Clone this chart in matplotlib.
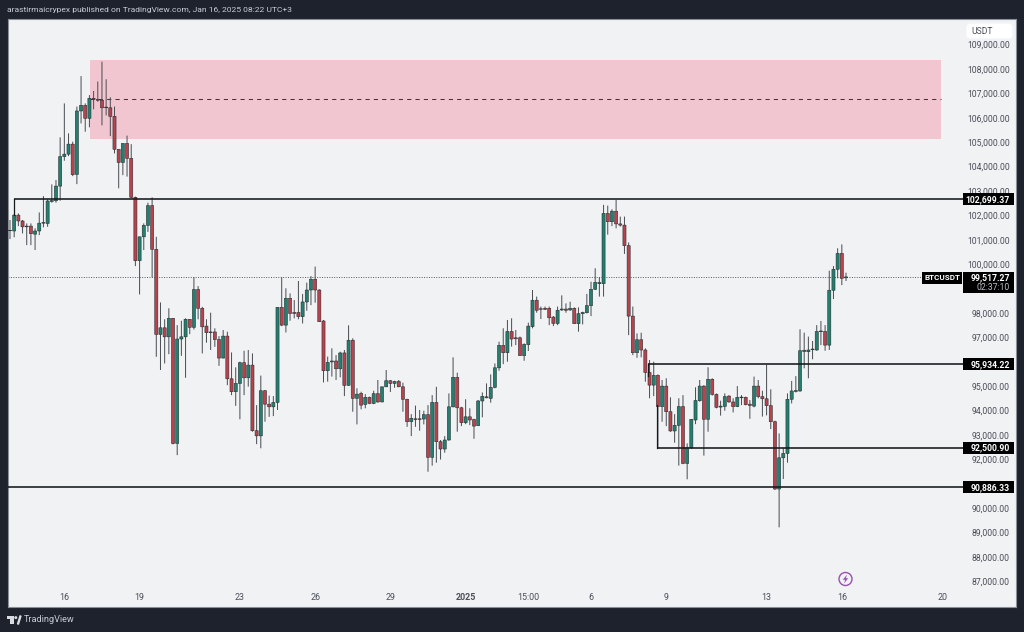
import matplotlib
matplotlib.use("Agg")
import matplotlib.pyplot as plt
from matplotlib.patches import Rectangle, Circle, Polygon, FancyBboxPatch
from matplotlib.transforms import Affine2D, blended_transform_factory

# OHLC of the 4h candles
opens = [101420,101400,102050,101810,101600,101600,101270,101400,101720,101710,102610,102640,103240,104450,104550,104960,103720,106320,106550,106020,
106840,106800,106760,106480,106450,106100,104750,104210,104990,104380,102780,100180,101160,101630,102440,100650,97160,97430,97060,97820,
92690,96970,97060,97780,97450,99000,98230,97500,97260,97260,96950,96190,97090,95340,94810,95150,96000,95380,95900,93210,
93000,94850,94300,94190,94370,98270,97540,98640,98060,98060,97890,98490,98980,99420,98980,97710,95670,96030,96070,95750,
96400,95070,96920,94540,94740,94290,94580,94330,94730,94390,95010,95260,95150,95230,95010,94500,93580,93700,93700,93690,
93870,92120,94370,92760,92460,92830,94190,95400,94150,93540,93780,93670,93420,94430,94600,94540,94990,95790,96710,96410,
97280,97020,97020,96290,96740,97480,98560,98210,98230,98230,97870,97610,98160,98200,98160,98230,97600,98010,98050,98340,
99010,99240,99240,102120,101780,102210,101690,101640,100800,97910,96410,96940,96520,95600,95080,95480,94200,95040,93990,93200,
93430,94200,91870,92510,93650,94440,95040,93680,95320,94700,94180,94210,94630,94390,94200,94560,94580,94300,94220,95040,
94610,94520,94240,93580,90820,92100,92280,94500,94820,94840,96460,96450,96530,96520,97270,97280,96720,98970,99830,100480,99480]
closes = [101410,102050,101810,101570,101570,101290,101400,101720,101750,102630,102650,103240,104450,104550,104960,103710,106320,106550,106020,106840,
106800,106760,106450,106450,106100,104750,104210,104990,104380,102780,100180,101160,101630,102440,100650,97160,97430,97060,97820,92690,
96970,97060,97780,97450,99000,98230,97470,97230,97230,96950,96190,97090,95340,94810,95150,96000,95380,95900,93210,93000,
94850,94300,94190,94370,98270,97540,98640,98020,98020,97890,98490,98980,99420,98980,97680,95670,96010,96070,95750,96400,
95070,96920,94540,94710,94260,94580,94330,94730,94390,95010,95260,95150,95230,95010,94500,93580,93720,93670,93670,93870,
92120,94370,92760,92460,92830,94190,95400,94150,93540,93780,93650,93400,94430,94620,94560,94990,95790,96710,96410,97280,
96970,96980,96290,96750,97500,98560,98150,98190,98190,97840,97610,98150,98200,98150,98230,97600,98010,98060,98340,99010,
99290,99290,102120,101780,102210,101690,101640,100800,97910,96410,96940,96520,95600,95080,95480,94200,95040,93990,93200,93430,
94200,91870,92510,93680,94450,95040,93680,95320,94700,94170,94220,94610,94390,94200,94580,94590,94280,94250,95040,94610,
94520,94240,93580,90820,92100,92280,94500,94840,94860,96490,96510,96520,96560,97280,97300,96720,98970,99830,100480,99460,99517]
highs = [101850,102090,102120,101850,101710,101710,101510,102160,102830,102700,103310,103490,105240,106630,105400,105060,106500,107750,106630,106970,
107140,107530,108340,107620,106880,106500,104750,104990,105310,104960,102810,101160,101710,102560,102780,101160,98470,97780,98230,97820,
97540,97720,97820,97780,99500,99140,98290,97780,98050,97410,97090,97340,97270,96420,95810,96040,96490,96520,96380,94260,
95470,94880,94650,94630,98270,99500,99050,98840,98570,99350,98820,99280,99550,99940,99010,97750,96250,96590,96310,96450,
96520,97530,97000,94950,94810,94710,94610,94850,95290,95010,95700,95290,95260,95290,95180,94520,93890,94240,94060,94030,
94260,94670,95010,92830,92990,94740,96220,95590,94190,94500,94130,93700,94470,94780,95150,95520,95970,96860,97410,97750,
97820,97340,97070,96790,97640,98980,98710,98300,98300,98300,97910,98300,98760,98430,98500,98270,98270,98090,98820,99320,
99870,99500,102470,102440,102290,102670,101990,101990,100930,98300,97200,97230,96590,96110,96040,95520,95290,95360,94580,93890,
94540,94670,92690,93680,94990,95290,95080,95810,95360,94740,94440,94740,94670,94540,95040,94670,94610,94470,95430,95290,
94850,95920,94910,93620,93100,92490,94740,95250,95450,97370,97230,97070,96890,97540,97710,97540,99770,99960,100690,100850,99690]
lows = [101070,101140,101600,101300,100820,100820,100620,101230,101550,101570,102560,102560,102640,104280,104470,103650,103320,105810,105470,105650,
106390,106700,105730,106140,105290,104580,103150,103690,103630,102740,99960,98800,100620,101360,99500,96240,95700,95970,96350,92650,
92210,96280,95380,97170,97360,97780,96380,96820,96520,96650,95870,96180,95080,94670,94230,93680,94670,95020,93170,92660,
92490,93580,93780,93810,94060,97500,97240,97720,97820,97780,97610,98130,98360,98460,97680,95190,95220,95430,95290,95400,
94630,95060,93990,93470,94090,94130,94300,94300,94360,94380,95000,94800,94970,95000,93990,93370,92990,93370,93210,93470,
91530,91780,91900,92030,92310,92800,94170,93170,93400,93480,93440,92880,93400,93760,94540,94360,94950,95670,95940,96040,
96660,96720,96290,96080,96480,97410,98050,97790,98160,97540,97500,97540,98130,98050,98130,97590,97270,97570,98020,97910,
98980,98710,98710,101250,101600,101510,101580,100460,97130,96310,96200,96220,95220,94540,94630,92490,93580,93400,93170,92720,
91780,91840,91220,92460,93480,94400,92190,93170,94650,94130,93830,94030,94360,93960,94180,94260,94250,93700,94170,94540,
93790,93840,93280,90780,89250,91230,91900,94330,94780,94810,95770,95360,96140,96490,96720,96490,96520,98610,99460,99180,99350]

# Levels drawn on the chart
levels = [102699.37, 95934.22, 92500.90, 90886.33]
level_labels = ["102,699.37", "95,934.22", "92,500.90", "90,886.33"]
level_starts = [1, 152.7, 154.8, -0.5]
zone_top, zone_bottom, zone_mid = 108410, 105170, 106800
zone_start, zone_end = 19.1, 222.7
last_price = 99517.27

# Axis labels
price_ticks = [109000,108000,107000,106000,105000,104000,103000,102000,101000,100000,
               98000,97000,95000,94000,93000,92000,90000,89000,88000,87000]
date_idx = [13,31,55,73,91,109,124,139,157,181,199,223]
date_lab = ["16","19","23","26","29","2025","15:00","6","9","13","16","20"]

BG = "#1e222d"; PANEL = "#f0f2f4"; RED = "#b9424f"; GREEN = "#237f6f"; EDGE = "#2a2e30"
TXT = "#4a4e57"
plt.rcParams["font.family"] = ["Roboto", "DejaVu Sans"]

W, H = 1024, 632
fig = plt.figure(figsize=(W/100, H/100), dpi=100, facecolor=BG)
L, R, T, B = 8, 1016, 19, 607
ax = fig.add_axes([L/W, 1-B/H, (R-L)/W, (B-T)/H], facecolor=PANEL)
x_of = lambda px: (px-10)/4.18
y_of = lambda py: 108000-(py-70)*41.0
ax.set_xlim(x_of(L), x_of(R))
ax.set_ylim(y_of(B), y_of(T))
ax.set_xticks([]); ax.set_yticks([])
for s in ax.spines.values():
    s.set_color("#8a8f98"); s.set_linewidth(0.8)

# zone
ax.add_patch(Rectangle((zone_start, zone_bottom), zone_end-zone_start, zone_top-zone_bottom,
                       fc="#f2c6d0", ec="none", zorder=1))
ax.plot([zone_start, zone_end], [zone_mid, zone_mid], color="#4a3238", lw=0.75,
        dashes=(4, 4), zorder=1.5)

# price line
ax.plot([x_of(L), x_of(922)], [last_price]*2, color="#555a60", lw=0.7, dashes=(1, 1.5), zorder=1.5)

# candles
for i, (o, h, l, c) in enumerate(zip(opens, highs, lows, closes)):
    up = c >= o
    ln = ax.vlines(i, l, h, color="#4a4f54", lw=0.72, zorder=2)
    ln.set_snap(False)
    bot, top = min(o, c), max(o, c)
    r = Rectangle((i-0.37, bot), 0.74, top-bot, fc=GREEN if up else RED, ec=EDGE, lw=0.4,
                  zorder=3, snap=False)
    ax.add_patch(r)

# levels
xend = x_of(963)
for lv, st in zip(levels, level_starts):
    ax.plot([st, xend], [lv, lv], color="#15181c", lw=1.15, zorder=4, solid_capstyle="butt")
ax.plot([1, 1], [levels[0], 102050], color="#15181c", lw=0.9, zorder=4)
ax.plot([152.7, 152.7], [levels[1], 95450], color="#15181c", lw=0.9, zorder=4)
ax.plot([154.8, 154.8], [levels[2], 94250], color="#15181c", lw=0.9, zorder=4)

# price axis
for p in price_ticks:
    ax.text(x_of(1010), p, f"{p:,.2f}", ha="right", va="center", fontsize=6.2, color=TXT, zorder=5)

# date axis
tr = blended_transform_factory(ax.transData, ax.transAxes)
for i, s in zip(date_idx, date_lab):
    ax.text(i, 10/(B-T), s, transform=tr, ha="center", va="center", fontsize=6.4, color=TXT,
            fontweight="bold" if s == "2025" else "normal")

# pixel-space overlay
px = Affine2D().scale(1, -1).translate(0, H)
def box(x0, y0, x1, y1, fc="black", z=6):
    fig.add_artist(Rectangle((x0, y0), x1-x0, y1-y0, fc=fc, ec="none", transform=px, zorder=z))
def label(x, y, s, color="white", size=6.2, ha="left", weight="normal", z=7):
    fig.text(x/W, 1-y/H, s, color=color, fontsize=size, ha=ha, va="center", fontweight=weight, zorder=z)

for lv, s in zip(levels, level_labels):
    yp = 70+(108000-lv)/41.0
    box(963, yp-6, 1014, yp+6)
    label(1010, yp, s, ha="right", weight="bold")
box(963, 272, 1014, 293)
label(1010, 277.5, "99,517.27", ha="right", weight="bold")
label(1010, 287, "02:37:10", color="#b9bcc2", ha="right")
box(922, 272, 962, 284)
label(942, 278, "BTCUSDT", ha="center", size=5.8, weight="bold")

fig.add_artist(FancyBboxPatch((968, 25), 43, 12, boxstyle="round,pad=0,rounding_size=2", fc="white",
                              ec="white", lw=2, transform=px, zorder=6))
label(971, 31.5, "USDT", color=TXT, size=6.2)

# publishing strap and footer
label(7, 10, "arastirmaicrypex published on TradingView.com, Jan 16, 2025 08:22 UTC+3",
      color="#c8ccd4", size=6.1)
label(24, 620, "TradingView", color="#c8ccd4", size=6.6)
fig.add_artist(Polygon([(7, 616), (14, 616), (14, 624), (10, 624), (10, 619), (7, 619)],
                       fc="#d8dbe0", ec="none", transform=px, zorder=7))
fig.add_artist(Circle((15.8, 617.6), 1.5, fc="#d8dbe0", ec="none", transform=px, zorder=7))
fig.add_artist(Polygon([(17.5, 624), (20, 616), (21, 616), (18.5, 624)],
                       fc="#d8dbe0", ec="#d8dbe0", lw=1, transform=px, zorder=7))

# publisher mark
fig.add_artist(Circle((845.5, 579), 6.5, fc="none", ec="#9c4fb0", lw=1.0, transform=px, zorder=7))
fig.add_artist(Polygon([(847, 574.5), (842.8, 579.8), (845.2, 579.8), (844, 583.5), (848.2, 578.2), (845.8, 578.2)],
                       fc="#9c4fb0", ec="none", transform=px, zorder=7))

fig.savefig("out.png", dpi=100, facecolor=BG)
